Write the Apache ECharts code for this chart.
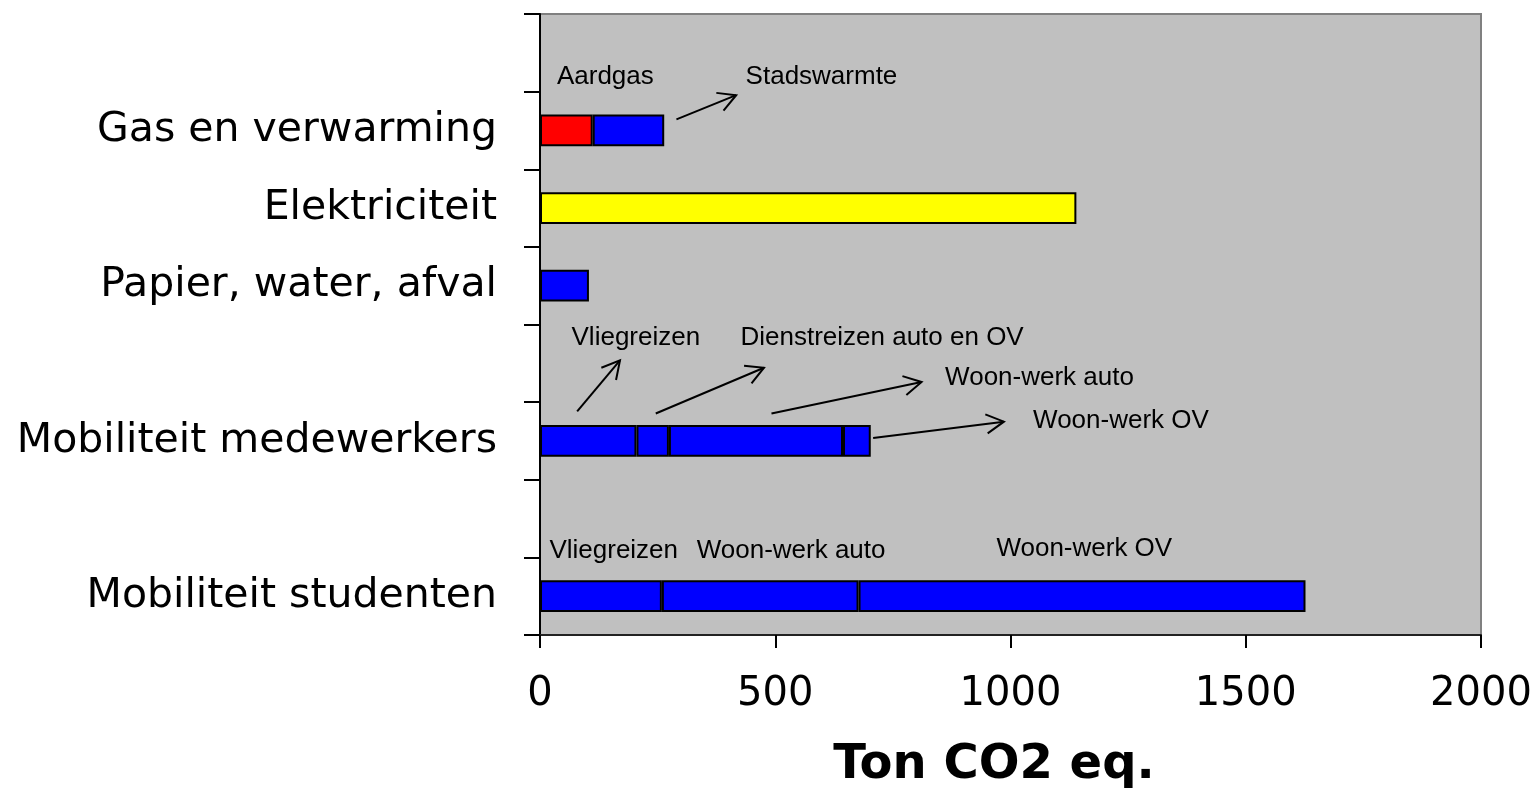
<!DOCTYPE html>
<html>
<head>
<meta charset="utf-8">
<script src="https://cdn.jsdelivr.net/npm/echarts@6/dist/echarts.min.js"></script>
<style>
html,body{margin:0;padding:0;background:#fff;overflow:hidden;}
#chart{width:1537px;height:795px;}
</style>
</head>
<body>
<div id="chart"></div>
<script>
// Categories, top to bottom (blank rows are empty category slots)
const categories = ['', 'Gas en verwarming', 'Elektriciteit', 'Papier, water, afval', ' ', 'Mobiliteit medewerkers', '  ', 'Mobiliteit studenten'];
// Stacked segments per category (same order as categories), '-' = none
const segment1 = ['-', 112, 1140, 104, '-', 205, '-', 259];
const segment2 = ['-', 152, '-', '-', '-', 69, '-', 418];
const segment3 = ['-', '-', '-', '-', '-', 370, '-', 950];
const segment4 = ['-', '-', '-', '-', '-', 59, '-', '-'];
// x axis ticks
const xTicks = [0, 500, 1000, 1500, 2000];
// Annotation labels: [text, x value, y in category units from bottom]
const annotationLabels = [
  ['Aardgas', 36, 7.195],
  ['Stadswarmte', 437, 7.195],
  ['Vliegreizen', 67, 3.83],
  ['Dienstreizen auto en OV', 426, 3.83],
  ['Woon-werk auto', 861, 3.316],
  ['Woon-werk OV', 1048, 2.762],
  ['Vliegreizen', 20, 1.081],
  ['Woon-werk auto', 333, 1.081],
  ['Woon-werk OV', 970, 1.11]
];
// Annotation arrows: [x0, y0, x1, y1] (arrowhead at x1,y1)
const annotationArrows = [
  [290, 6.643, 417, 6.954],
  [79, 2.88, 170, 3.537],
  [246, 2.854, 476, 3.443],
  [492, 2.854, 811, 3.26],
  [708, 2.538, 986, 2.748]
];

// styles (not data)
const segColors1 = [null, '#FF0000', '#FFFF00', '#0000FF', null, '#0000FF', null, '#0000FF'];
const blue = '#0000FF';

function build(values, colors) {
  return values.map((v, i) => {
    if (v === '-') return '-';
    return { value: v, itemStyle: { color: colors ? colors[i] : blue } };
  });
}

const barStyle = { borderColor: '#000', borderWidth: 2 };
const barCommon = { type: 'bar', stack: 'total', barWidth: '41%', itemStyle: barStyle, silent: true, xAxisIndex: 0, yAxisIndex: 0 };

const chart = echarts.init(document.getElementById('chart'), null, { renderer: 'canvas', width: 1537, height: 795 });
chart.setOption({
  animation: false,
  backgroundColor: '#fff',
  grid: {
    left: 540, top: 14, width: 941, height: 625,
    show: true, backgroundColor: '#C0C0C0', borderColor: '#808080', borderWidth: 2
  },
  xAxis: {
    type: 'value', min: xTicks[0], max: xTicks[xTicks.length - 1], interval: 500,
    splitLine: { show: false },
    axisLine: { show: true, lineStyle: { color: '#222', width: 2 } },
    axisTick: { show: true, length: 13, lineStyle: { color: '#000', width: 2 } },
    axisLabel: { margin: 40, color: '#000', fontSize: 40, fontFamily: 'DejaVu Sans', formatter: v => String(v) },
    name: 'Ton CO2 eq.', nameLocation: 'middle', nameGap: 107,
    nameTextStyle: { fontSize: 48, fontWeight: 'bold', fontFamily: 'DejaVu Sans', color: '#000', padding: [0, 33, 0, 0] }
  },
  yAxis: [{
    type: 'category', data: categories, inverse: true,
    axisLine: { show: true, lineStyle: { color: '#000', width: 2 } },
    axisTick: { show: true, length: 16, lineStyle: { color: '#000', width: 2 } },
    axisLabel: { interval: 0, margin: 43, color: '#000', fontSize: 41, fontFamily: 'DejaVu Sans', padding: [7, 0, 0, 0] },
    splitLine: { show: false }
  }, {
    type: 'value', min: 0, max: categories.length, show: false, position: 'right',
    splitLine: { show: false }
  }],
  series: [
    Object.assign({ name: 's1', data: build(segment1, segColors1) }, barCommon),
    Object.assign({ name: 's2', data: build(segment2) }, barCommon),
    Object.assign({ name: 's3', data: build(segment3) }, barCommon),
    Object.assign({ name: 's4', data: build(segment4) }, barCommon),
    {
      type: 'custom', coordinateSystem: 'cartesian2d', xAxisIndex: 0, yAxisIndex: 1, silent: true, z: 10,
      data: annotationLabels.map(a => [a[1], a[2]]),
      renderItem: function (params, api) {
        const p = api.coord([api.value(0), api.value(1)]);
        return {
          type: 'text', x: p[0], y: p[1],
          style: {
            text: annotationLabels[params.dataIndex][0],
            fill: '#000', fontSize: 26, fontFamily: 'Liberation Sans, Arial',
            align: 'left', verticalAlign: 'middle'
          }
        };
      }
    },
    {
      type: 'custom', coordinateSystem: 'cartesian2d', xAxisIndex: 0, yAxisIndex: 1, silent: true, z: 10,
      data: annotationArrows,
      renderItem: function (params, api) {
        const p0 = api.coord([api.value(0), api.value(1)]);
        const p1 = api.coord([api.value(2), api.value(3)]);
        const ang = Math.atan2(p1[1] - p0[1], p1[0] - p0[0]);
        const L = 20, h = 0.5;
        const a1 = [p1[0] - L * Math.cos(ang - h), p1[1] - L * Math.sin(ang - h)];
        const a2 = [p1[0] - L * Math.cos(ang + h), p1[1] - L * Math.sin(ang + h)];
        const st = { stroke: '#000', lineWidth: 2, fill: null };
        return {
          type: 'group',
          children: [
            { type: 'line', shape: { x1: p0[0], y1: p0[1], x2: p1[0], y2: p1[1] }, style: st },
            { type: 'polyline', shape: { points: [a1, p1, a2] }, style: st }
          ]
        };
      }
    }
  ]
});
</script>
</body>
</html>
